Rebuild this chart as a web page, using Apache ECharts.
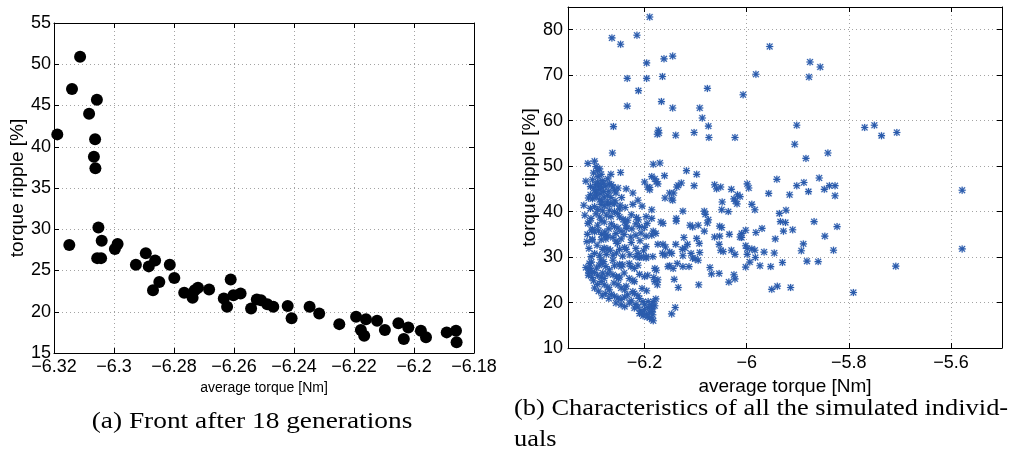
<!DOCTYPE html>
<html>
<head>
<meta charset="utf-8">
<script src="https://cdn.jsdelivr.net/npm/echarts@6/dist/echarts.min.js"></script>
<style>
  html, body { margin: 0; padding: 0; background: #fff; }
  #chart { width: 1021px; height: 455px; }
</style>
</head>
<body>
<div id="chart"></div>
<script>
// ---- (a) Pareto front after 18 generations: [average torque (Nm), torque ripple (%)]
const frontPoints = [
  [-6.3113, 50.9], [-6.3140, 47.0], [-6.3057, 45.7], [-6.3083, 44.0], [-6.3189, 41.5],
  [-6.3063, 40.9], [-6.3067, 38.8], [-6.3062, 37.4], [-6.3149, 28.1], [-6.3052, 30.2],
  [-6.3041, 28.6], [-6.3056, 26.5], [-6.3043, 26.5], [-6.2997, 27.6], [-6.2988, 28.2],
  [-6.2927, 25.7], [-6.2894, 27.1], [-6.2884, 25.5], [-6.2863, 26.2], [-6.2870, 22.6],
  [-6.2849, 23.6], [-6.2814, 25.7], [-6.2799, 24.1], [-6.2766, 22.3], [-6.2738, 21.7],
  [-6.2731, 22.6], [-6.2720, 22.9], [-6.2683, 22.7], [-6.2634, 21.6], [-6.2623, 20.6],
  [-6.2611, 23.9], [-6.2602, 22.0], [-6.2578, 22.2], [-6.2543, 20.4], [-6.2524, 21.5],
  [-6.2510, 21.4], [-6.2489, 20.9], [-6.2469, 20.6], [-6.2421, 20.7], [-6.2408, 19.2],
  [-6.2348, 20.6], [-6.2316, 19.8], [-6.2249, 18.5], [-6.2193, 19.4], [-6.2177, 17.8],
  [-6.2166, 17.1], [-6.2160, 19.1], [-6.2123, 18.9], [-6.2097, 17.8], [-6.2052, 18.6],
  [-6.2034, 16.7], [-6.2019, 18.1], [-6.1977, 17.7], [-6.1960, 16.9], [-6.1891, 17.5],
  [-6.1860, 17.7], [-6.1858, 16.3]
];

// ---- (b) every simulated individual: [average torque (Nm), torque ripple (%)]
const simulated = [
  // high-ripple individuals
  [-6.264, 78.2], [-6.247, 76.8], [-6.234, 69.3], [-6.234, 63.2], [-6.261, 58.7], [-6.263, 52.9],
  [-6.215, 78.8], [-6.212, 66.6], [-6.190, 82.8], [-6.196, 72.7], [-6.196, 69.3], [-6.165, 69.7],
  [-6.162, 73.6], [-6.145, 74.2], [-6.167, 64.2], [-6.145, 62.8], [-6.173, 57.9], [-6.172, 57.3],
  [-6.175, 57.0], [-6.139, 56.8], [-6.103, 57.4], [-6.092, 62.8], [-6.087, 60.6], [-6.077, 67.1],
  [-6.075, 58.8], [-6.074, 56.3], [-6.023, 56.3], [-6.007, 65.7], [-5.982, 70.2], [-5.955, 76.3],
  [-5.876, 72.9], [-5.856, 71.8], [-5.878, 69.6], [-5.902, 59.0], [-5.906, 54.8], [-5.884, 51.7],
  [-5.841, 52.9], [-5.769, 58.5], [-5.750, 59.0], [-5.736, 56.7], [-5.706, 57.4],
  // isolated designs on the right
  [-5.578, 44.7], [-5.578, 31.8], [-5.708, 28.0], [-5.791, 22.2],
  // torque above -6.02 Nm
  [-5.941, 47.1], [-5.957, 44.0], [-5.902, 45.7], [-5.888, 46.4], [-5.879, 44.4], [-5.916, 43.7],
  [-5.858, 47.4], [-5.848, 44.9], [-5.838, 45.7], [-5.827, 45.7], [-5.827, 43.5], [-5.999, 46.1],
  [-5.996, 45.2], [-5.990, 41.6], [-5.984, 40.4], [-5.936, 39.6], [-5.923, 40.3], [-6.013, 43.3],
  [-5.934, 37.8], [-5.924, 37.6], [-5.868, 37.8], [-5.823, 36.7], [-5.910, 36.0], [-5.928, 35.7],
  [-5.970, 36.3], [-5.982, 35.4], [-6.002, 35.9], [-6.010, 35.2], [-6.010, 34.3], [-5.847, 34.6],
  [-5.944, 34.0], [-5.889, 32.9], [-5.893, 31.4], [-5.830, 31.5], [-6.002, 32.5], [-5.999, 31.9],
  [-5.990, 31.8], [-5.984, 31.5], [-5.966, 31.1], [-5.946, 30.9], [-5.999, 30.6], [-5.983, 29.9],
  [-5.994, 28.9], [-6.002, 27.8], [-5.974, 28.1], [-5.953, 27.9], [-5.930, 28.8], [-5.882, 29.1],
  [-5.860, 29.0], [-5.951, 22.9], [-5.940, 23.6], [-5.914, 23.3],
  // torque between -6.19 and -6.02 Nm
  [-6.183, 50.4], [-6.170, 50.7], [-6.118, 49.0], [-6.098, 48.2], [-6.186, 47.7], [-6.180, 47.2],
  [-6.177, 46.6], [-6.174, 46.1], [-6.161, 47.9], [-6.134, 45.8], [-6.128, 46.3], [-6.137, 45.4],
  [-6.103, 45.7], [-6.063, 45.9], [-6.059, 45.0], [-6.051, 45.4], [-6.030, 44.9], [-6.018, 43.7],
  [-6.151, 44.1], [-6.143, 44.1], [-6.147, 42.8], [-6.145, 42.5], [-6.160, 43.0], [-6.190, 45.3],
  [-6.025, 42.8], [-6.022, 42.3], [-6.019, 41.7], [-6.048, 42.1], [-6.049, 40.4], [-6.036, 40.0],
  [-6.186, 40.4], [-6.125, 40.1], [-6.083, 40.1], [-6.081, 39.4], [-6.075, 38.2], [-6.077, 37.5],
  [-6.138, 38.5], [-6.138, 37.9], [-6.186, 38.5], [-6.168, 37.7], [-6.164, 37.4], [-6.111, 37.0],
  [-6.106, 36.6], [-6.095, 37.0], [-6.053, 36.8], [-6.049, 36.5], [-6.083, 35.7], [-6.034, 35.0],
  [-6.123, 34.3], [-6.098, 34.1], [-6.063, 34.4], [-6.053, 34.6], [-6.013, 34.4], [-6.183, 35.7],
  [-6.178, 35.2], [-6.186, 34.8], [-6.200, 46.5], [-6.194, 45.4],
  [-6.174, 32.8], [-6.164, 32.8], [-6.159, 32.2], [-6.139, 32.8], [-6.116, 32.8], [-6.126, 31.7],
  [-6.121, 32.0], [-6.151, 31.1], [-6.147, 30.8], [-6.165, 30.8], [-6.160, 30.4], [-6.184, 30.1],
  [-6.109, 30.8], [-6.093, 33.0], [-6.092, 31.0], [-6.101, 29.6], [-6.106, 29.8], [-6.095, 29.3],
  [-6.125, 30.3], [-6.136, 28.6], [-6.151, 28.1], [-6.144, 27.5], [-6.154, 27.9], [-6.125, 27.9],
  [-6.113, 27.9], [-6.180, 27.5], [-6.177, 27.1], [-6.072, 27.7], [-6.054, 32.8], [-6.051, 31.5],
  [-6.046, 31.2], [-6.030, 31.5], [-6.023, 30.6], [-6.069, 26.3], [-6.054, 26.4], [-6.025, 26.1],
  [-6.023, 25.2], [-6.035, 24.5], [-6.182, 25.5], [-6.174, 25.0], [-6.180, 24.6], [-6.175, 23.9],
  [-6.142, 25.1], [-6.134, 23.3], [-6.094, 23.9], [-6.178, 20.8], [-6.183, 20.2], [-6.186, 19.1],
  [-6.180, 19.3], [-6.186, 18.0], [-6.184, 17.3], [-6.183, 16.0], [-6.140, 18.9], [-6.147, 17.5],
  // dense group below -6.19 Nm
  [-6.311, 50.6], [-6.298, 51.1], [-6.295, 49.9], [-6.292, 49.0], [-6.288, 49.4], [-6.285, 48.2],
  [-6.266, 48.2], [-6.247, 48.6], [-6.300, 48.5], [-6.291, 47.7],
  [-6.315, 46.7], [-6.302, 47.0], [-6.292, 46.5], [-6.287, 46.0], [-6.283, 46.8], [-6.296, 45.9],
  [-6.272, 47.2], [-6.269, 46.1], [-6.276, 45.6], [-6.280, 46.3], [-6.290, 45.6],
  [-6.306, 45.5], [-6.299, 45.2], [-6.289, 44.9], [-6.284, 45.3], [-6.262, 45.4], [-6.259, 44.7],
  [-6.256, 44.1], [-6.236, 45.0], [-6.223, 44.1], [-6.190, 44.8], [-6.270, 44.5], [-6.265, 45.9],
  [-6.280, 44.4], [-6.252, 45.2], [-6.294, 44.1], [-6.298, 44.6],
  [-6.306, 43.7], [-6.302, 42.8], [-6.295, 43.2], [-6.288, 42.6], [-6.279, 43.2], [-6.272, 43.6],
  [-6.266, 43.1], [-6.273, 42.1], [-6.297, 43.5], [-6.310, 43.0], [-6.245, 43.1], [-6.213, 42.5],
  [-6.258, 42.4], [-6.284, 42.3], [-6.287, 43.9],
  [-6.319, 41.4], [-6.285, 41.6], [-6.279, 41.3], [-6.272, 41.6], [-6.266, 41.8], [-6.259, 41.7],
  [-6.223, 41.6], [-6.292, 40.5], [-6.282, 40.2], [-6.269, 40.3], [-6.259, 40.0], [-6.249, 40.6],
  [-6.248, 41.4], [-6.306, 40.7], [-6.298, 41.1], [-6.238, 40.9], [-6.205, 41.2],
  [-6.253, 39.6], [-6.249, 38.8], [-6.305, 38.5], [-6.288, 38.8], [-6.285, 38.1], [-6.233, 38.1],
  [-6.266, 38.9], [-6.275, 39.2], [-6.216, 38.7], [-6.212, 38.2], [-6.197, 38.9], [-6.295, 39.5],
  [-6.226, 39.3], [-6.242, 38.3], [-6.317, 39.2],
  [-6.308, 37.7], [-6.279, 37.7], [-6.265, 37.3], [-6.259, 36.7], [-6.252, 36.4], [-6.239, 37.7],
  [-6.236, 37.0], [-6.236, 36.3], [-6.217, 37.3], [-6.210, 36.7], [-6.200, 36.5], [-6.292, 37.0],
  [-6.195, 37.4], [-6.225, 36.2], [-6.270, 36.2], [-6.311, 37.4],
  [-6.302, 36.1], [-6.298, 35.5], [-6.290, 35.8], [-6.284, 35.0], [-6.278, 35.5], [-6.276, 34.8],
  [-6.272, 34.6], [-6.256, 35.2], [-6.246, 35.7], [-6.240, 35.0], [-6.217, 34.8], [-6.207, 35.3],
  [-6.227, 34.4], [-6.197, 34.6], [-6.302, 33.9], [-6.312, 35.0], [-6.262, 34.3], [-6.304, 35.9],
  [-6.303, 33.7], [-6.285, 33.8], [-6.276, 34.0], [-6.256, 33.5], [-6.246, 34.0], [-6.253, 33.0],
  [-6.279, 32.0], [-6.282, 31.7], [-6.272, 31.8], [-6.267, 31.5], [-6.249, 31.7], [-6.239, 32.1],
  [-6.236, 31.7], [-6.217, 31.9], [-6.197, 32.3], [-6.293, 32.6], [-6.226, 33.2], [-6.209, 33.6],
  [-6.313, 33.4], [-6.309, 31.9],
  [-6.213, 30.8], [-6.217, 30.1], [-6.305, 30.1], [-6.298, 30.8], [-6.262, 30.4], [-6.255, 30.9],
  [-6.243, 30.2], [-6.229, 30.5], [-6.288, 30.4], [-6.275, 30.6], [-6.210, 29.9], [-6.197, 30.1],
  [-6.202, 31.4],
  [-6.315, 27.7], [-6.308, 28.6], [-6.310, 27.2], [-6.304, 28.9], [-6.306, 27.5], [-6.303, 26.7],
  [-6.286, 29.4], [-6.283, 28.6], [-6.280, 29.0], [-6.289, 28.2], [-6.276, 27.9], [-6.259, 28.1],
  [-6.249, 28.4], [-6.246, 27.9], [-6.243, 28.3], [-6.230, 28.6], [-6.227, 27.9], [-6.220, 27.5],
  [-6.213, 28.2], [-6.207, 30.0], [-6.197, 29.8], [-6.269, 27.2], [-6.262, 29.3],
  [-6.294, 27.6], [-6.309, 26.4],
  [-6.298, 26.6], [-6.292, 26.0], [-6.285, 25.6], [-6.279, 25.3], [-6.282, 26.5], [-6.262, 26.1],
  [-6.255, 25.7], [-6.251, 25.3], [-6.249, 25.6], [-6.230, 25.3], [-6.223, 24.9], [-6.220, 24.6],
  [-6.210, 26.2], [-6.200, 25.7], [-6.194, 26.0], [-6.303, 25.5], [-6.310, 26.0], [-6.272, 26.3],
  [-6.240, 26.5],
  [-6.285, 24.6], [-6.279, 23.9], [-6.272, 23.4], [-6.269, 22.8], [-6.252, 23.9], [-6.246, 23.2],
  [-6.239, 22.8], [-6.236, 23.6], [-6.292, 24.0], [-6.298, 23.2], [-6.290, 22.5], [-6.260, 24.3],
  [-6.220, 22.0], [-6.213, 21.5], [-6.223, 22.4], [-6.205, 23.1], [-6.196, 22.6], [-6.300, 24.8],
  [-6.265, 21.8], [-6.259, 21.4], [-6.252, 21.0], [-6.246, 20.7], [-6.239, 21.2], [-6.233, 21.7],
  [-6.277, 22.0], [-6.283, 21.5], [-6.270, 20.9], [-6.256, 19.9], [-6.246, 19.5], [-6.239, 19.1],
  [-6.226, 20.4], [-6.230, 19.9],
  [-6.210, 20.9], [-6.203, 20.2], [-6.193, 20.2], [-6.187, 19.4], [-6.193, 18.9], [-6.200, 18.4],
  [-6.207, 18.1], [-6.190, 17.9], [-6.184, 18.6], [-6.197, 17.4], [-6.203, 17.1], [-6.190, 16.7],
  [-6.213, 19.0], [-6.217, 19.6], [-6.220, 18.8], [-6.200, 19.5], [-6.195, 16.8], [-6.206, 17.7],
  [-6.186, 16.3], [-6.210, 17.6]
];

// ---- axis ranges and tick steps
const frontTorqueRange = [-6.32, -6.18];
const frontTorqueStep = 0.02;
const frontRippleRange = [15, 55];
const frontRippleStep = 5;
const simTorqueRange = [-6.35, -5.5];
const simTorqueStep = 0.2;
const simRippleRange = [10, 85];
const simRippleStep = 10;

const captionA = '(a) Front after 18 generations';
const captionB = '(b) Characteristics of all the simulated individ-\nuals';

const SANS = '"Liberation Sans", Arial, Helvetica, sans-serif';
const SERIF = '"Liberation Serif", "Times New Roman", serif';

// MATLAB-like tick labels use a real minus sign
const fmtTick = v => String(+(+v).toFixed(4)).replace('-', '\u2212');

const gridDots = { color: '#a3a3a3', width: 1, type: [1, 3] };
const boxLine = { show: true, onZero: false, lineStyle: { color: '#000', width: 1 } };
const tickIn = { show: true, inside: true, length: 5, lineStyle: { color: '#000', width: 1 } };

// main (labelled) axis with dotted grid
function mainAxis(gridIndex, position, range, step, opts) {
  const ax = {
    type: 'value', gridIndex, position,
    min: range[0], max: range[1],
    axisLine: boxLine, axisTick: tickIn,
    axisLabel: Object.assign({ color: '#000', fontFamily: SANS, formatter: fmtTick }, opts.label),
    splitLine: { show: true, showMinLine: false, showMaxLine: false, lineStyle: gridDots },
    name: opts.name, nameLocation: 'middle', nameGap: opts.nameGap,
    nameTextStyle: { color: '#000', fontFamily: SANS, fontSize: opts.nameSize }
  };
  if (opts.useInterval) ax.interval = step; else { ax.minInterval = step; ax.maxInterval = step; }
  return ax;
}
// mirror axis closing the box, ticks only
function mirrorAxis(gridIndex, position, range, step, useInterval) {
  const ax = {
    type: 'value', gridIndex, position,
    min: range[0], max: range[1],
    axisLine: boxLine, axisTick: tickIn,
    axisLabel: { show: false }, splitLine: { show: false }
  };
  if (useInterval) ax.interval = step; else { ax.minInterval = step; ax.maxInterval = step; }
  return ax;
}

// eight-spoke asterisk marker
const asterisk = 'path://M4.2,0L5.8,0L5.8,10L4.2,10Z M0,4.2L10,4.2L10,5.8L0,5.8Z ' +
  'M1.5,0.4L9.6,8.5L8.5,9.6L0.4,1.5Z M8.5,0.4L9.6,1.5L1.5,9.6L0.4,8.5Z';

const chart = echarts.init(document.getElementById('chart'), null, { renderer: 'canvas' });

chart.setOption({
  backgroundColor: '#fff',
  animation: false,
  grid: [
    { left: 54, top: 23, width: 420, height: 330, outerBoundsMode: 'none' },
    { left: 568, top: 7, width: 434, height: 341, outerBoundsMode: 'none' }
  ],
  xAxis: [
    mainAxis(0, 'bottom', frontTorqueRange, frontTorqueStep, {
      useInterval: true, label: { fontSize: 18, margin: 5 },
      name: 'average torque [Nm]', nameGap: 21, nameSize: 14
    }),
    mirrorAxis(0, 'top', frontTorqueRange, frontTorqueStep, true),
    mainAxis(1, 'bottom', simTorqueRange, simTorqueStep, {
      useInterval: false, label: { fontSize: 18, margin: 6, showMinLabel: false, showMaxLabel: false },
      name: 'average torque [Nm]', nameGap: 22, nameSize: 19
    }),
    mirrorAxis(1, 'top', simTorqueRange, simTorqueStep, false)
  ],
  yAxis: [
    mainAxis(0, 'left', frontRippleRange, frontRippleStep, {
      useInterval: true, label: { fontSize: 18, margin: 3 },
      name: 'torque ripple [%]', nameGap: 27, nameSize: 19
    }),
    mirrorAxis(0, 'right', frontRippleRange, frontRippleStep, true),
    mainAxis(1, 'left', simRippleRange, simRippleStep, {
      useInterval: true, label: { fontSize: 18, margin: 5, showMaxLabel: false },
      name: 'torque ripple [%]', nameGap: 29, nameSize: 19
    }),
    mirrorAxis(1, 'right', simRippleRange, simRippleStep, true)
  ],
  series: [
    {
      type: 'scatter', xAxisIndex: 0, yAxisIndex: 0,
      data: frontPoints, symbol: 'circle', symbolSize: 12,
      itemStyle: { color: '#000', opacity: 1 }, silent: true
    },
    {
      type: 'scatter', xAxisIndex: 2, yAxisIndex: 2,
      data: simulated, symbol: asterisk, symbolSize: 7,
      itemStyle: { color: '#2d5dae', opacity: 1, borderColor: 'rgba(45,93,174,0.25)', borderWidth: 0.8 },
      silent: true
    }
  ],
  graphic: [
    {
      type: 'text', x: 252, y: 422, scaleX: 1.14,
      style: { text: captionA, font: '24px ' + SERIF, fill: '#000', textAlign: 'center', textVerticalAlign: 'middle' }
    },
    {
      type: 'text', x: 514, y: 393, scaleX: 1.1,
      style: { text: captionB, font: '24px ' + SERIF, fill: '#000', textAlign: 'left', textVerticalAlign: 'top', lineHeight: 31 }
    }
  ]
});
</script>
</body>
</html>
